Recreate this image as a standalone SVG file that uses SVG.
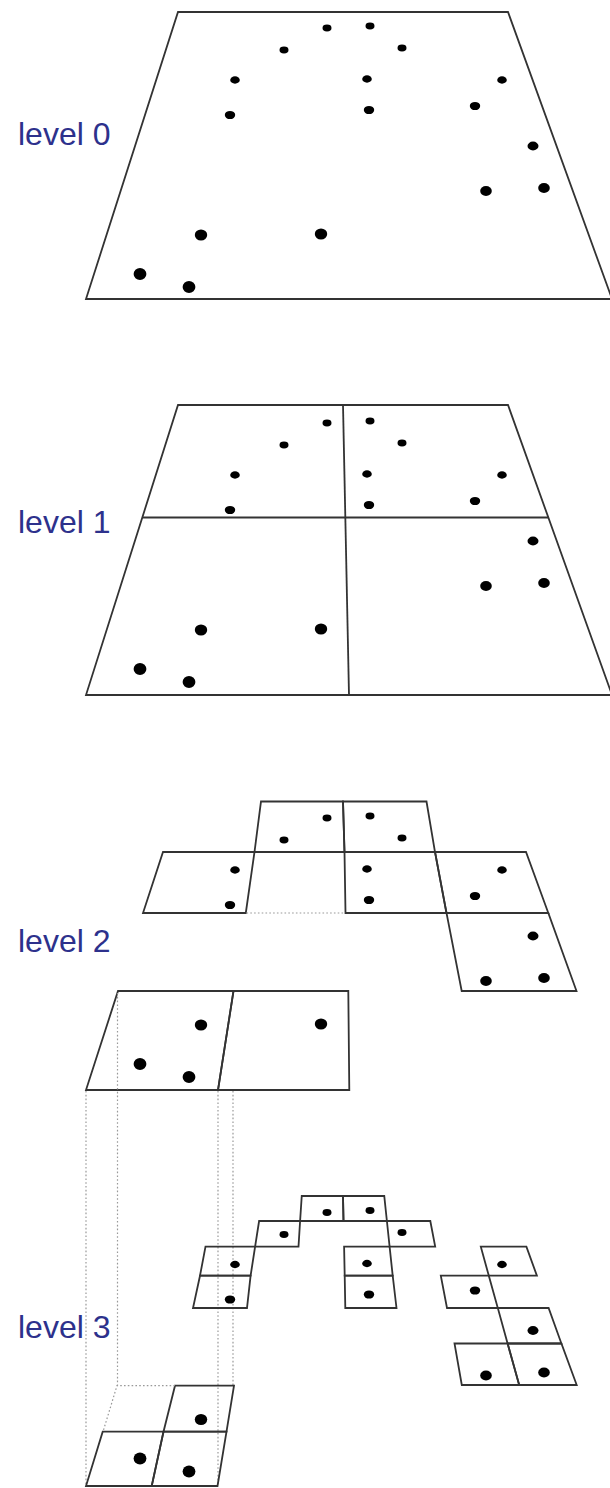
<svg xmlns="http://www.w3.org/2000/svg" width="610" height="1488" viewBox="0 0 610 1488">
<style>
.ln{fill:none;stroke:#333;stroke-width:1.8;stroke-linejoin:miter}
.dt{fill:none;stroke:#999;stroke-width:1.2;stroke-dasharray:1.6 2.2}
.pt{fill:#000}
.lbl{font-family:"Liberation Sans",Arial,sans-serif;font-size:32px;fill:#2d318c}
</style>
<defs>
<g id="pts16">
<ellipse class="pt" cx="327" cy="28" rx="4.5" ry="3.4"/>
<ellipse class="pt" cx="370" cy="26" rx="4.5" ry="3.4"/>
<ellipse class="pt" cx="284" cy="50" rx="4.5" ry="3.4"/>
<ellipse class="pt" cx="402" cy="48" rx="4.5" ry="3.4"/>
<ellipse class="pt" cx="235" cy="80" rx="4.8" ry="3.7"/>
<ellipse class="pt" cx="367" cy="79" rx="4.8" ry="3.7"/>
<ellipse class="pt" cx="502" cy="80" rx="4.8" ry="3.7"/>
<ellipse class="pt" cx="230" cy="115" rx="5.2" ry="4.1"/>
<ellipse class="pt" cx="369" cy="110" rx="5.2" ry="4.1"/>
<ellipse class="pt" cx="475" cy="106" rx="5.2" ry="4.1"/>
<ellipse class="pt" cx="533" cy="146" rx="5.5" ry="4.4"/>
<ellipse class="pt" cx="486" cy="191" rx="5.8" ry="5"/>
<ellipse class="pt" cx="544" cy="188" rx="5.8" ry="5"/>
<ellipse class="pt" cx="201" cy="235" rx="6.2" ry="5.5"/>
<ellipse class="pt" cx="140" cy="274" rx="6.4" ry="5.9"/>
<ellipse class="pt" cx="189" cy="287" rx="6.4" ry="5.9"/>
</g>
<ellipse id="pt17" class="pt" cx="321" cy="234" rx="6.2" ry="5.5"/>
</defs>

<g id="level0">
<text class="lbl" x="18" y="145">level 0</text>
<polygon class="ln" points="178,12 508,12 612,299 86,299"/>
<use href="#pts16"/>
<use href="#pt17"/>
</g>

<g id="level1">
<text class="lbl" x="18" y="532.5">level 1</text>
<polygon class="ln" points="178,405 508,405 612,695 86,695"/>
<line class="ln" x1="142.3" y1="517.5" x2="548.3" y2="517.5"/>
<line class="ln" x1="343" y1="405" x2="349" y2="695"/>
<use href="#pts16" transform="translate(0,395)"/>
<use href="#pt17" transform="translate(0,395)"/>
</g>

<g id="level2">
<text class="lbl" x="18" y="951.5">level 2</text>
<polygon class="ln" points="261,801.5 343,801.5 344.5,852 254.5,852"/>
<polygon class="ln" points="343,801.5 426.5,801.5 435,852 344.5,852"/>
<polygon class="ln" points="163,852 254.5,852 245.8,913 143,913"/>
<polygon class="ln" points="344.5,852 435,852 446.5,913 345.5,913"/>
<polygon class="ln" points="435,852 526,852 548.3,913 446.5,913"/>
<polygon class="ln" points="446.5,913 548.3,913 576.5,991 461.7,991"/>
<polygon class="ln" points="118,991 233.5,991 218,1090 86,1090"/>
<polygon class="ln" points="233.5,991 348.3,991 349.3,1090 218,1090"/>
<line class="dt" x1="246.5" y1="913" x2="344.5" y2="913"/>
<use href="#pts16" transform="translate(0,790)"/>
<use href="#pt17" transform="translate(0,790)"/>
</g>

<g id="projections">
<line class="dt" x1="86" y1="1091" x2="86" y2="1486"/>
<line class="dt" x1="117.5" y1="993" x2="117.5" y2="1385.7"/>
<line class="dt" x1="218" y1="1091" x2="218" y2="1486"/>
<line class="dt" x1="233" y1="1091" x2="233" y2="1385.7"/>
</g>

<g id="level3">
<text class="lbl" x="18" y="1337.5">level 3</text>
<polygon class="ln" points="301.75,1196 343,1196 343.5,1221 300.1,1221"/>
<polygon class="ln" points="343,1196 384.25,1196 386.9,1221 343.5,1221"/>
<polygon class="ln" points="259.1,1221 300.1,1221 298.5,1246.7 255.1,1246.7"/>
<polygon class="ln" points="386.9,1221 430.3,1221 435.2,1246.7 389.6,1246.7"/>
<polygon class="ln" points="205.5,1246.7 255.1,1246.7 250.6,1275.7 200,1275.7"/>
<polygon class="ln" points="344.1,1246.7 389.6,1246.7 392.7,1275.7 344.7,1275.7"/>
<polygon class="ln" points="480.8,1246.7 526.4,1246.7 536.9,1275.7 488.8,1275.7"/>
<polygon class="ln" points="200,1275.7 250.6,1275.7 247,1308 193,1308"/>
<polygon class="ln" points="344.7,1275.7 392.7,1275.7 396.5,1308 345.3,1308"/>
<polygon class="ln" points="440.8,1275.7 488.8,1275.7 497.8,1308 447,1308"/>
<polygon class="ln" points="497.8,1308 548.6,1308 561.4,1343.5 507.6,1343.5"/>
<polygon class="ln" points="454.5,1343.5 507.6,1343.5 519.2,1385 461.8,1385"/>
<polygon class="ln" points="507.6,1343.5 561.4,1343.5 576.7,1385 519.2,1385"/>
<polygon class="ln" points="175,1385.7 234,1385.7 226.5,1431.7 163.5,1431.7"/>
<polygon class="ln" points="102.7,1431.7 163.5,1431.7 151.7,1486 86,1486"/>
<polygon class="ln" points="163.5,1431.7 226.5,1431.7 217.5,1486 151.7,1486"/>
<polyline class="dt" points="175,1385.7 117,1385.7 103,1431.7"/>
<use href="#pts16" transform="translate(0,1184.5)"/>
</g>
</svg>
